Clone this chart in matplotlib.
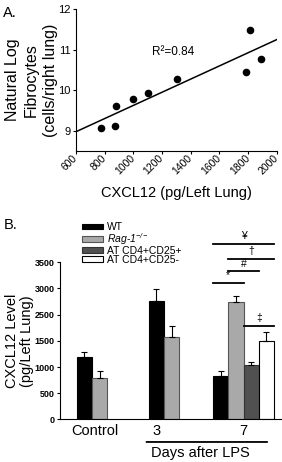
import numpy as np
import matplotlib
matplotlib.use('Agg')
import matplotlib.pyplot as plt

plt.rcParams['font.family'] = ['Liberation Sans', 'DejaVu Sans']
plt.rcParams['mathtext.fontset'] = 'custom'
plt.rcParams['mathtext.rm'] = 'Liberation Sans:italic'
plt.rcParams['mathtext.it'] = 'Liberation Sans:italic'

# Panel A: CXCL12 vs fibrocitos
cxcl12 = [775, 875, 880, 1000, 1100, 1305, 1785, 1812, 1892]
log_fibro = [9.05, 9.10, 9.60, 9.79, 9.92, 10.28, 10.46, 11.49, 10.77]
fit_x = [600, 2000]
fit_y = [8.97, 11.25]
r2_text = 'R\u00b2=0.84'

# Panel B: barras
grupos = ['Control', '3', '7']
series = ['WT', r'$\mathit{Rag}$-$\mathit{1}^{-/-}$', 'AT CD4+CD25+', 'AT CD4+CD25-']
colores = ['black', '#a9a9a9', '#505050', 'white']
bordes = ['black', '#555555', '#333333', 'black']
valores = [[1183, 786], [2261, 1580], [836, 2236, 1046, 1498]]
errores = [[111, 139], [229, 204], [89, 126, 45, 172]]
yticks_pos = [0, 500, 1000, 1500, 2000, 2500, 3000]
yticks_lab = ['0', '500', '1000', '1500', '2500', '3000', '3500']
# significancia: (simbolo, barra inicio, barra fin, altura)
signif = [('\u00a5', 0, 3, 3352), ('\u2020', 1, 3, 3066), ('#', 1, 2, 2831),
          ('*', 0, 1, 2601), ('\u2021', 2, 3, 1786)]

fig = plt.figure(figsize=(2.82, 4.62), dpi=100)

# ---- A ----
axA = fig.add_axes([0.2695, 0.6738, 0.7117, 0.306])
axA.scatter(cxcl12, log_fibro, s=20, color='black', zorder=3)
axA.plot(fit_x, fit_y, color='black', lw=1.1)
axA.set_xlim(600, 2000)
axA.set_ylim(8.5, 12)
axA.set_xticks(np.arange(600, 2001, 200))
axA.set_yticks([9, 10, 11, 12])
axA.tick_params(axis='y', labelsize=8, length=2.5, width=0.8, pad=1.5)
axA.tick_params(axis='x', labelsize=7.5, length=2.5, width=0.8, pad=1.5)
plt.setp(axA.get_xticklabels(), rotation=45, ha='right', va='center',
         rotation_mode='anchor')
for s in ['top', 'right']:
    axA.spines[s].set_visible(False)
for s in ['left', 'bottom']:
    axA.spines[s].set_linewidth(0.8)
axA.text(1130, 10.94, r2_text, fontsize=8.5, va='center', ha='left')
axA.set_xlabel('CXCL12 (pg/Left Lung)', fontsize=10.5, labelpad=7)
axA.set_ylabel('Natural Log\nFibrocytes\n(cells/right lung)', fontsize=11.5,
               linespacing=1.35, labelpad=0)
fig.text(0.012, 0.972, 'A.', fontsize=10.5, va='center')

# ---- B ----
axB = fig.add_axes([0.2128, 0.092, 0.7837, 0.3403])
ancho = 1.0
inicio = [1.1, 5.8, 10.0]
handles = []
pos7 = []
for g, x0 in enumerate(inicio):
    for i, (v, e) in enumerate(zip(valores[g], errores[g])):
        xc = x0 + i * ancho + ancho / 2
        b = axB.bar(xc, v, width=ancho, color=colores[i], edgecolor=bordes[i], lw=0.8)
        axB.errorbar(xc, v, yerr=[[0], [e]], color='black', capsize=2, capthick=0.8,
                     elinewidth=0.8)
        if g == 2:
            pos7.append(xc)
            handles.append(b)

tick_x = [inicio[0] + 1.0 + 0.2, inicio[1] + 0.5, inicio[2] + 2.0]
axB.set_xticks(tick_x)
axB.set_xticklabels(grupos, fontsize=10.5)
axB.tick_params(axis='x', length=0, pad=3)
axB.set_yticks(yticks_pos)
axB.set_yticklabels(yticks_lab, fontsize=6.5, fontweight='bold')
axB.tick_params(axis='y', length=2.5, width=0.8, pad=1.5)
axB.set_xlim(0, 14.45)
axB.set_ylim(0, 3000)
for s in ['top', 'right']:
    axB.spines[s].set_visible(False)
for s in ['left', 'bottom']:
    axB.spines[s].set_linewidth(0.8)
axB.set_ylabel('CXCL12 Level\n(pg/Left Lung)', fontsize=10.5, linespacing=1.1, labelpad=0)

for sym, a, b, h in signif:
    xa = pos7[a] - ancho / 2
    xb = pos7[b] + ancho / 2
    axB.plot([xa, xb], [h, h], color='black', lw=1.3, clip_on=False)
    axB.text((xa + xb) / 2, h + 50, sym, fontsize=7.5, ha='center', va='bottom')

# linea "Days after LPS"
axB.annotate('', xy=(5.65, -0.143), xytext=(13.55, -0.143),
             xycoords=('data', 'axes fraction'),
             arrowprops=dict(arrowstyle='-', lw=1.3, color='black',
                             shrinkA=0, shrinkB=0))
axB.text(9.2, -0.215, 'Days after LPS', fontsize=10.5, ha='center', va='center',
         transform=axB.get_xaxis_transform())

fig.legend(handles, series, loc='upper left', bbox_to_anchor=(0.29, 1 - 222 / 462),
           frameon=False, fontsize=7.5, handlelength=2.0, handleheight=0.4,
           labelspacing=-0.1, handletextpad=0.4, borderpad=0, borderaxespad=0)
fig.text(0.012, 0.513, 'B.', fontsize=10.5, va='center')

fig.savefig('out.png', dpi=100)
